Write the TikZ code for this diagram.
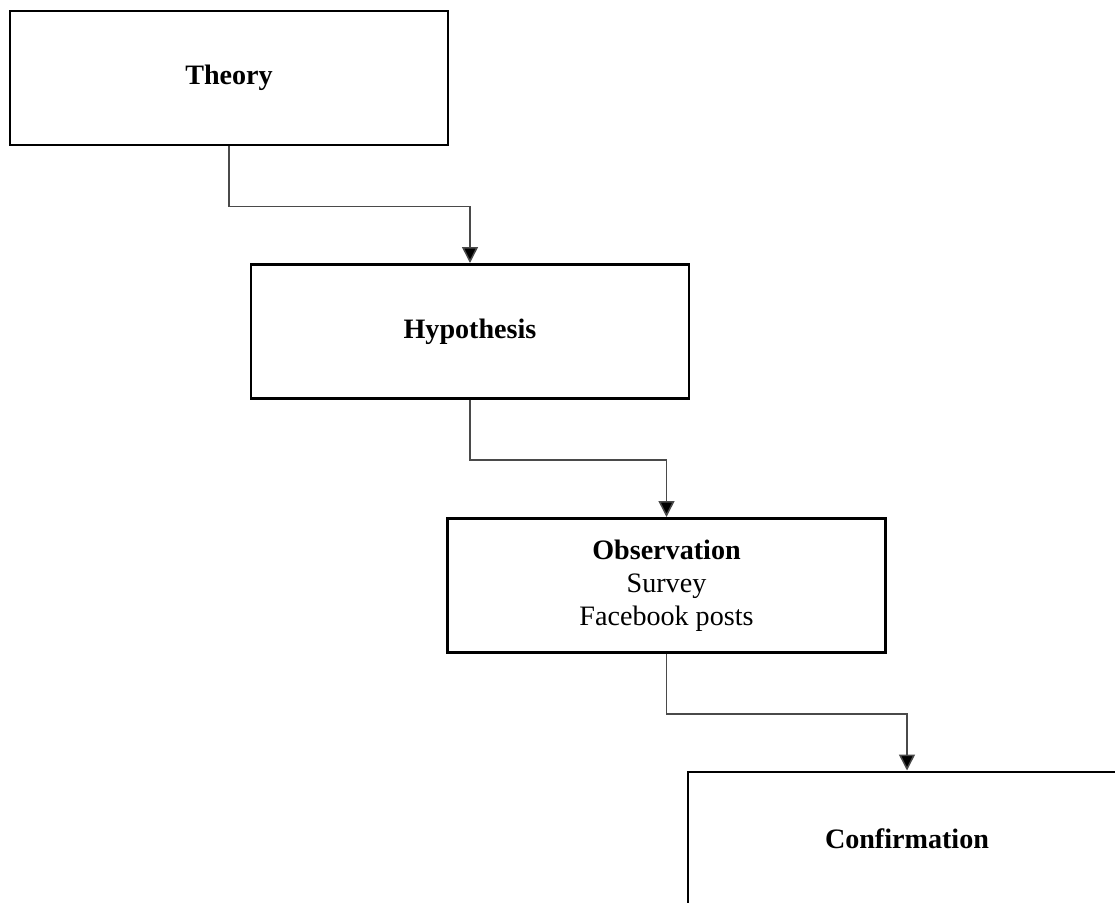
\documentclass[tikz,border=0pt]{standalone}
\usepackage{fontspec}
\setmainfont{Liberation Serif}
\usepackage{tikz}
\usetikzlibrary{arrows.meta,calc,positioning}
\definecolor{linkgray}{HTML}{4A4A4A}

\begin{document}
\begin{tikzpicture}[
  stage/.style={draw=black,line width=1.7pt,minimum width=8.76cm,minimum height=2.68cm,align=center,inner sep=0pt,font=\fontsize{16}{18.9}\selectfont},
  link/.style={draw=linkgray,line width=0.85pt,-{Triangle[length=9pt,width=9pt,fill=black]}}]
  \clip (0,0) rectangle (22.3,18.06);
  \node[stage] (theory) at (4.58,16.5) {\textbf{Theory}};
  \node[stage] (hypothesis) at (9.40,11.43) {\textbf{Hypothesis}};
  \node[stage] (observation) at (13.33,6.35) {\textbf{Observation}\\Survey\\Facebook posts};
  \node[stage] (confirmation) at (18.14,1.28) {\textbf{Confirmation}};
  \draw[link] (theory.south) -- ++(0,-1.2) -| (hypothesis.north);
  \draw[link] (hypothesis.south) -- ++(0,-1.2) -| (observation.north);
  \draw[link] (observation.south) -- ++(0,-1.2) -| (confirmation.north);
\end{tikzpicture}
\end{document}
